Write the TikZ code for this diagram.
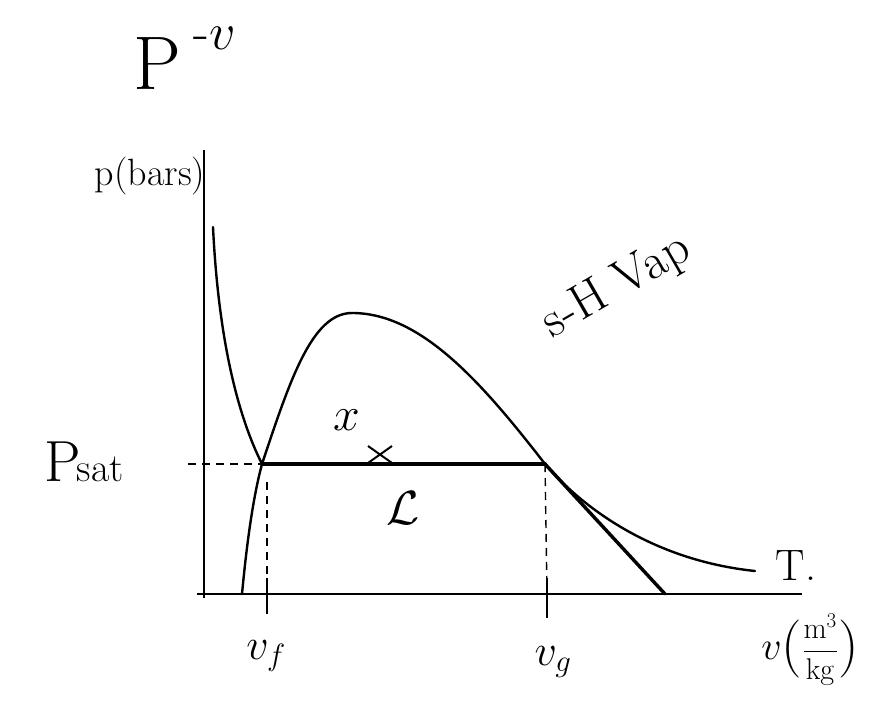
\RequirePackage{fix-cm}
\documentclass[tikz,border=0pt]{standalone}
\begin{document}
\begin{tikzpicture}[x=1pt,y=-1pt,
  curve/.style={line width=2.4pt,line cap=round,line join=round},
  axisline/.style={line width=2pt},
  guide/.style={line width=1.4pt,dash pattern=on 8pt off 6pt},
  lbl/.style={inner sep=0pt,font=\fontsize{34}{34}\selectfont}]
\useasboundingbox (0,0) rectangle (885,722);
% title
\node[lbl,font=\fontsize{76}{76}\selectfont] (titleP) at (157,64) {P};
\node[lbl,font=\fontsize{52}{52}\selectfont] (titlev) at (215,38) {-$v$};
% axis label
\node[lbl,font=\fontsize{38}{38}\selectfont] (plabel) at (150,176) {p(bars)};
% axes
\coordinate (ytop) at (204,150);
\coordinate (orig) at (204,594);
\coordinate (xend) at (802,594);
\draw[axisline] (ytop) -- (204,598);
\draw[axisline] (197,594) -- (xend);
% key points
\coordinate (f) at (262,464);
\coordinate (g) at (545,464);
\coordinate (liqbot) at (242,594);
\coordinate (vapbot) at (665,594);
\coordinate (top) at (352,313);
\coordinate (Ttop) at (213,227);
\coordinate (Tend) at (755,571);
% dashed guides
\coordinate (psatL) at (188,464);
\draw[guide] (psatL) -- (f);
\coordinate (vfdash) at (267,482);
\coordinate (vftick) at (267,614);
\draw[guide] (vfdash) -- (267,594);
\draw[line width=1.6pt] (267,578) -- (vftick);
\coordinate (vgtick) at (547,618);
\draw[guide] (g) -- (547,594);
\draw[line width=1.6pt] (547,578) -- (vgtick);
% saturation dome
\draw[curve] (liqbot) .. controls (248,530) and (255,490) .. (f)
  .. controls (290,380) and (312,313) .. (top)
  .. controls (420,313) and (480,380) .. (g);
\draw[curve,line width=3.4pt] (g) -- (vapbot);
% isotherm
\draw[curve] (Ttop) .. controls (218,330) and (235,410) .. (f);
\draw[curve,line width=3.6pt] (f) -- (g);
\draw[curve] (g) .. controls (580,505) and (650,560) .. (Tend);
% quality mark
\coordinate (xm) at (380,455);
\draw[line width=2pt] (368,446) -- (392,463) (392,446) -- (368,463);
% labels
\node[lbl,font=\fontsize{58}{58}\selectfont] (psat) at (84,462) {P\kern-4pt{\fontsize{40}{40}\selectfont sat}};
\node[lbl,font=\fontsize{44}{44}\selectfont] (vf) at (266,656) {$v_{f}$};
\node[lbl,font=\fontsize{44}{44}\selectfont] (vg) at (553,662) {$v_{g}$};
\node[lbl,font=\fontsize{32}{32}\selectfont] (vunit) at (810,650) {\fontsize{40}{40}\selectfont$v$\raisebox{-4pt}{\fontsize{58}{58}\selectfont(}\fontsize{30}{30}\selectfont$\displaystyle\frac{\mathrm{m}^3}{\mathrm{kg}}$\raisebox{-4pt}{\fontsize{58}{58}\selectfont)}};
\node[lbl,font=\fontsize{44}{44}\selectfont] (Tlbl) at (796,566) {T.};
\node[lbl,font=\fontsize{48}{48}\selectfont] (xlbl) at (347,420) {$x$};
\node[lbl,font=\fontsize{48}{48}\selectfont] (Llbl) at (403,508) {$\mathcal{L}$};
\node[lbl,font=\fontsize{50}{50}\selectfont,rotate=30] (shvap) at (617,287) {s-H Vap};
\end{tikzpicture}
\end{document}
